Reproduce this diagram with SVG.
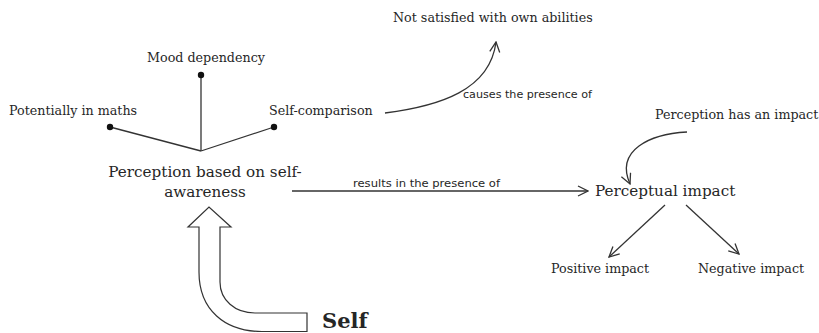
<svg xmlns="http://www.w3.org/2000/svg" width="819" height="333" viewBox="0 0 819 333">
  <style>
    .t { font-family: "DejaVu Serif", "Liberation Serif", serif; fill: #262626; }
    .s { font-size: 12.7px; }
    .m { font-size: 15.2px; }
    .h { font-family: "DejaVu Sans", "Liberation Sans", sans-serif; font-size: 10px; fill: #262626; }
    .ln { stroke: #333; stroke-width: 1.3; fill: none; }
    .ar { stroke: #333; stroke-width: 1.3; fill: none; marker-end: url(#open); }
  </style>
  <defs>
    <marker id="open" viewBox="0 0 12 12" refX="11" refY="6" markerWidth="12" markerHeight="12" markerUnits="userSpaceOnUse" orient="auto">
      <path d="M1,1 L11,6 L1,11" fill="none" stroke="#333" stroke-width="1.3"/>
    </marker>
  </defs>
  <rect width="819" height="333" fill="#fff"/>

  <g id="connectors">
    <!-- spokes from the central concept to its aspects -->
    <line class="ln" x1="201" y1="75" x2="201" y2="151"/>
    <line class="ln" x1="110" y1="127" x2="201" y2="151"/>
    <line class="ln" x1="274" y1="127" x2="201" y2="151"/>
    <circle cx="201" cy="75" r="3.2" fill="#111"/>
    <circle cx="110" cy="127" r="3.2" fill="#111"/>
    <circle cx="274" cy="127" r="3.2" fill="#111"/>
    <!-- self-comparison to dissatisfaction -->
    <path class="ar" d="M385,113 C440,106 490,90 496,42"/>
    <text class="h" x="463" y="98" textLength="129" lengthAdjust="spacingAndGlyphs">causes the presence of</text>
    <!-- main relation -->
    <line class="ar" x1="292" y1="191" x2="588" y2="191"/>
    <text class="h" x="353" y="187" textLength="147" lengthAdjust="spacingAndGlyphs">results in the presence of</text>
    <!-- impact feeding into perceptual impact -->
    <path class="ar" d="M687,132 C650,134 615,150 630,184"/>
    <!-- branches to outcomes -->
    <line class="ar" x1="665" y1="205" x2="609" y2="257"/>
    <line class="ar" x1="686" y1="205" x2="739" y2="254"/>
    <!-- hollow block arrow from Self -->
    <path d="M307,313 L307,331.5 L262,331.5 C225,331.5 199,310 199,272 L199,227 L188,227 L209,207 L231,227 L220,227 L220,282 C220,300 235,313 255,313 Z" fill="#fff" stroke="#333" stroke-width="1.2"/>
  </g>

  <g id="node-not-satisfied"><text class="t s" x="393" y="22">Not satisfied with own abilities</text></g>
  <g id="node-mood"><text class="t s" x="147" y="62">Mood dependency</text></g>
  <g id="node-maths"><text class="t s" x="9" y="115">Potentially in maths</text></g>
  <g id="node-self-comparison"><text class="t s" x="269" y="115">Self-comparison</text></g>
  <g id="node-perception">
    <text class="t m" x="205" y="177" text-anchor="middle">Perception based on self-</text>
    <text class="t m" x="205" y="197" text-anchor="middle">awareness</text>
  </g>
  <g id="node-perceptual-impact"><text class="t m" x="595" y="196">Perceptual impact</text></g>
  <g id="node-has-impact"><text class="t s" x="655" y="119">Perception has an impact</text></g>
  <g id="node-positive"><text class="t s" x="551" y="273">Positive impact</text></g>
  <g id="node-negative"><text class="t s" x="698" y="273">Negative impact</text></g>
  <g id="node-self"><text class="t" x="322" y="328" style="font-size:21px;font-weight:bold">Self</text></g>
</svg>
